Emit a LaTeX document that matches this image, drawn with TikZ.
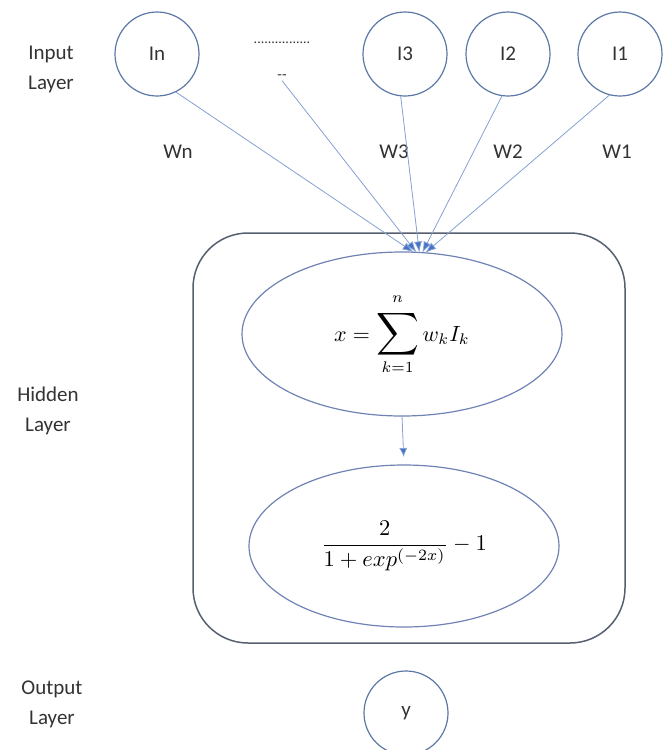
\documentclass[tikz,border=0pt]{standalone}
\usepackage{amsmath}
\usepackage{graphicx}
\usepackage{fontspec}
\setmainfont{Carlito}
\usetikzlibrary{shapes.geometric,arrows.meta}
\definecolor{txtgray}{HTML}{333333}
\definecolor{ringblue}{HTML}{5B77A6}
\definecolor{wireblue}{HTML}{86A0D2}
\definecolor{tipblue}{HTML}{4472C4}
\definecolor{boxgray}{HTML}{566070}
\definecolor{ovalblue}{HTML}{6E82B4}
\tikzset{
  neuron/.style={circle, draw=ringblue, line width=1.2pt, minimum size=84pt, inner sep=0pt, outer sep=0pt,
    text=txtgray, font=\fontsize{21}{24}\selectfont},
  layerlabel/.style={align=center, text=txtgray, font=\fontsize{21}{30}\selectfont},
  wlabel/.style={text=txtgray, font=\fontsize{21}{24}\selectfont},
  oval/.style={ellipse, draw=ovalblue, line width=1.2pt, inner sep=0pt, outer sep=0pt},
  wire/.style={draw=wireblue, line width=0.8pt, -{Latex[length=11pt,width=8pt,fill=tipblue]}},
}
% enlarged summation sign with limits above and below
\newcommand{\bigsum}{\mathop{\scalebox{1.35}{$\displaystyle\sum$}}\limits}
\begin{document}
\begin{tikzpicture}[x=1pt,y=-1pt]
\useasboundingbox (0,0) rectangle (662,750);

% hidden layer frame
\node[draw=boxgray, line width=1.5pt, rounded corners=55pt, minimum width=432pt, minimum height=410pt, inner sep=0pt, outer sep=0pt] (frame) at (409,438) {};

% layer captions
\node[layerlabel] (inlab) at (51,69) {Input\\Layer};
\node[layerlabel] (hidlab) at (48,411) {Hidden\\Layer};
\node[layerlabel] (outlab) at (52,704) {Output\\Layer};

% input neurons
\node[neuron] (In) at (157,54) {In};
\node[neuron] (I3) at (405,54) {I3};
\node[neuron] (I2) at (508,54) {I2};
\node[neuron] (I1) at (620,54) {I1};
\node[wlabel, font=\fontsize{14}{16}\selectfont] (dotsa) at (282,43) {................};
\node[wlabel, font=\fontsize{15}{16}\selectfont, inner sep=1pt] (dotsb) at (282,77) {-{}-};

% weights
\node[wlabel] (wn) at (178,152) {Wn};
\node[wlabel] (w3) at (394,152) {W3};
\node[wlabel] (w2) at (508,152) {W2};
\node[wlabel] (w1) at (617,152) {W1};

% summation and activation
\node[oval, minimum width=320pt, minimum height=164pt] (sum) at (402,334)
  {\scalebox{2.2}{$\displaystyle x=\bigsum_{k=1}^{\raisebox{1.5pt}{$\scriptstyle n$}} w_k I_k$}};
\node[oval, minimum width=310pt, minimum height=162pt] (act) at (404,546)
  {\scalebox{2.25}{$\displaystyle \frac{2}{1+exp^{(-2x)}}-1$}};

% output neuron
\node[neuron] (y) at (406,713) {y};

% weighted inputs converging on the sum
\draw[wire] (In.-64) -- (sum.82);
\draw[wire] (dotsb.south) -- (sum.80);
\draw[wire] (I3.-96) -- (sum.78);
\draw[wire] (I2.-98) -- (sum.76);
\draw[wire] (I1.-104) -- (sum.74);

% sum feeds activation
\draw[draw=wireblue, line width=0.8pt, -{Latex[length=9pt,width=8pt,fill=tipblue]}, shorten >=8pt] (sum.south) -- (act.north);
\end{tikzpicture}
\end{document}
